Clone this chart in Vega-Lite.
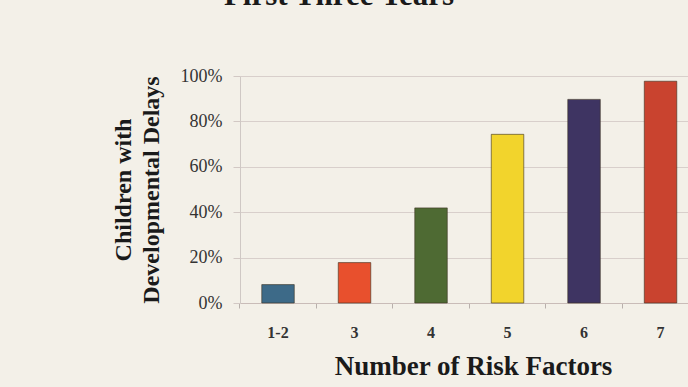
{
  "$schema": "https://vega.github.io/schema/vega-lite/v6.json",
  "width": 448,
  "height": 227,
  "autosize": {"type": "none"},
  "padding": {"left": 240, "top": 76, "right": 0, "bottom": 84},
  "background": "#f3f0e8",
  "title": {
    "text": "First Three Years",
    "font": "Liberation Serif",
    "fontSize": 31,
    "fontWeight": "bold",
    "color": "#1a1a1a",
    "anchor": "middle",
    "offset": 55,
    "dx": -125
  },
  "data": {
    "values": [
      {"risk": "1-2", "pct": 8.1},
      {"risk": "3", "pct": 17.8},
      {"risk": "4", "pct": 41.9},
      {"risk": "5", "pct": 74.3},
      {"risk": "6", "pct": 89.7},
      {"risk": "7", "pct": 97.7}
    ]
  },
  "mark": {"type": "bar", "strokeWidth": 1, "strokeOpacity": 0.6, "stroke": "#3a3020"},
  "encoding": {
    "x": {
      "field": "risk",
      "type": "ordinal",
      "sort": null,
      "scale": {"paddingInner": 0.575, "paddingOuter": 0.2155, "align": 0.66},
      "axis": {
        "title": "Number of Risk Factors",
        "titleFont": "Liberation Serif",
        "titleFontSize": 27,
        "titleFontWeight": "bold",
        "titleColor": "#1a1a1a",
        "titlePadding": 13,
        "titleX": 233,
        "labelAngle": 0,
        "labelFont": "Liberation Serif",
        "labelFontSize": 16,
        "labelFontWeight": "bold",
        "labelColor": "#333333",
        "labelPadding": 16,
        "tickSize": 5,
        "tickColor": "#b8b0ac",
        "bandPosition": -0.68,
        "domainColor": "#c9bcb8",
        "grid": false
      }
    },
    "y": {
      "field": "pct",
      "type": "quantitative",
      "scale": {"domain": [0, 100], "nice": false},
      "axis": {
        "title": ["Children with", "Developmental Delays"],
        "titleFont": "Liberation Serif",
        "titleFontSize": 24,
        "titleFontWeight": "bold",
        "titleColor": "#1a1a1a",
        "titleLineHeight": 28,
        "titlePadding": 17,
        "values": [0, 20, 40, 60, 80, 100],
        "labelExpr": "datum.value + '%'",
        "labelFont": "Liberation Serif",
        "labelFontSize": 18,
        "labelColor": "#333333",
        "labelPadding": 11,
        "tickSize": 7,
        "tickColor": "#d2c8c4",
        "domainColor": "#cfc8c4",
        "gridColor": "#d8cfcb",
        "gridOpacity": 1
      }
    },
    "color": {
      "field": "risk",
      "type": "nominal",
      "sort": null,
      "legend": null,
      "scale": {
        "domain": ["1-2", "3", "4", "5", "6", "7"],
        "range": ["#3d6a88", "#e8502d", "#4e6a33", "#f2d42c", "#3e3462", "#c9432f"]
      }
    }
  },
  "config": {
    "view": {"stroke": null},
    "font": "Liberation Serif"
  }
}
